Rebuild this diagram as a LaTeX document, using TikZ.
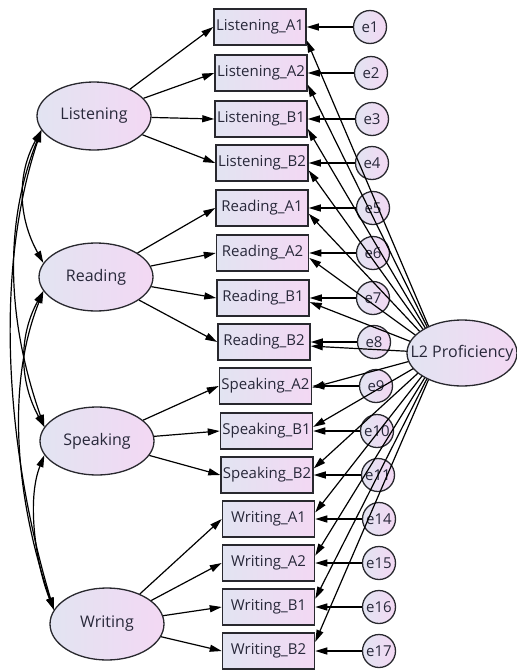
\documentclass[tikz,border=0pt]{standalone}
\usepackage{fontspec}
\setmainfont{Open Sans}
\usetikzlibrary{arrows.meta,shapes.geometric,calc}
\definecolor{fillL}{RGB}{226,228,242}
\definecolor{fillR}{RGB}{243,216,243}
\definecolor{edgec}{RGB}{40,40,46}
\definecolor{txtc}{RGB}{40,40,58}
\tikzset{
  obs/.style={rectangle, draw=edgec, line width=1.5pt, left color=fillL, right color=fillR,
    minimum width=92pt, minimum height=36pt, inner sep=0pt, text=txtc,
    font=\fontsize{15}{17}\selectfont},
  lat/.style={ellipse, draw=edgec, line width=1.3pt, left color=fillL, right color=fillR,
    minimum width=114pt, minimum height=68pt, inner sep=0pt, text=txtc,
    font=\fontsize{16}{18}\selectfont},
  err/.style={circle, draw=edgec, line width=1.3pt, left color=fillL, right color=fillR,
    minimum size=33pt, inner sep=0pt, text=txtc, font=\fontsize{15}{17}\selectfont},
  arr/.style={-{Triangle[length=12pt,width=7pt]}, line width=1.2pt, draw=black},
  cov/.style={{Triangle[length=12pt,width=7pt]}-{Triangle[length=12pt,width=7pt]}, line width=1.2pt, draw=black},
}
\begin{document}
\begin{tikzpicture}[x=1pt,y=-1pt]
\useasboundingbox (0,0) rectangle (517,670);
% observed variables
\node[obs] (b1)  at (260,27)    {Listening\_A1};
\node[obs] (b2)  at (261,73)    {Listening\_A2};
\node[obs] (b3)  at (261,119)   {Listening\_B1};
\node[obs] (b4)  at (262,163)   {Listening\_B2};
\node[obs] (b5)  at (262,208)   {Reading\_A1};
\node[obs] (b6)  at (262.5,253) {Reading\_A2};
\node[obs] (b7)  at (263,298)   {Reading\_B1};
\node[obs] (b8)  at (264,342)   {Reading\_B2};
\node[obs] (b9)  at (265.5,386) {Speaking\_A2};
\node[obs] (b10) at (266.5,431) {Speaking\_B1};
\node[obs] (b11) at (267,475)   {Speaking\_B2};
\node[obs] (b12) at (268.5,519) {Writing\_A1};
\node[obs] (b13) at (268.5,563) {Writing\_A2};
\node[obs] (b14) at (268.5,607) {Writing\_B1};
\node[obs] (b15) at (268.5,651) {Writing\_B2};
% errors
\node[err] (e1)  at (370,27)  {e1};
\node[err] (e2)  at (371,73)  {e2};
\node[err] (e3)  at (372,119) {e3};
\node[err] (e4)  at (372,163) {e4};
\node[err] (e5)  at (373,208) {e5};
\node[err] (e6)  at (373,253) {e6};
\node[err] (e7)  at (373,298) {e7};
\node[err] (e8)  at (374,342) {e8};
\node[err] (e9)  at (376,386) {e9};
\node[err] (e10) at (377,431) {e10};
\node[err] (e11) at (378,475) {e11};
\node[err] (e14) at (379,519) {e14};
\node[err] (e15) at (379,563) {e15};
\node[err] (e16) at (379,607) {e16};
\node[err] (e17) at (379,651) {e17};
% latent factors
\node[lat] (lis) at (94,116)  {\makebox[0pt]{Listening}};
\node[lat] (rea) at (96,277)  {\makebox[0pt]{Reading}};
\node[lat] (spe) at (97,441)  {\makebox[0pt]{Speaking}};
\node[lat,minimum height=72pt] (wri) at (107,624) {\makebox[0pt]{Writing}};
% loadings
\foreach \b in {b1,b2,b3,b4} \draw[arr] (lis) -- (\b.west);
\foreach \b in {b5,b6,b7,b8} \draw[arr] (rea) -- (\b.west);
\foreach \b in {b9,b10,b11} \draw[arr] (spe) -- (\b.west);
\foreach \b in {b12,b13,b14,b15} \draw[arr] (wri) -- (\b.west);
% error arrows
\foreach \e/\b in {e1/b1,e2/b2,e3/b3,e4/b4,e5/b5,e6/b6,e7/b7,e8/b8,e9/b9,e10/b10,e11/b11,e14/b12,e15/b13,e16/b14,e17/b15}
  \draw[arr] (\e) -- (\b.east);
% covariances
\draw[cov] (lis.195) .. controls +(-25,45) and +(-25,-45) .. (rea.165);
\draw[cov] (lis.195) .. controls +(-40,100) and +(-35,-100) .. (spe.165);
\draw[cov] (lis.195) .. controls +(-50,150) and +(-45,-150) .. (wri.165);
\draw[cov] (rea.195) .. controls +(-25,45) and +(-25,-45) .. (spe.165);
\draw[cov] (rea.195) .. controls +(-40,100) and +(-35,-100) .. (wri.165);
\draw[cov] (spe.195) .. controls +(-18,45) and +(-18,-45) .. (wri.165);
% second-order loadings
\coordinate (l2f) at (440,353);
\foreach \b/\a in {b1/-16,b2/-14,b3/-12,b4/-9,b5/-7,b6/-6,b7/-5,b8/-5,b9/-2,b10/5,b11/8,b12/8,b13/9,b14/10,b15/11}
  \draw[arr] (l2f) -- (\b.\a);
\node[lat,minimum width=110pt,minimum height=66pt] (l2) at (462,353) {\makebox[0pt]{L2 Proficiency}};
\end{tikzpicture}
\end{document}
